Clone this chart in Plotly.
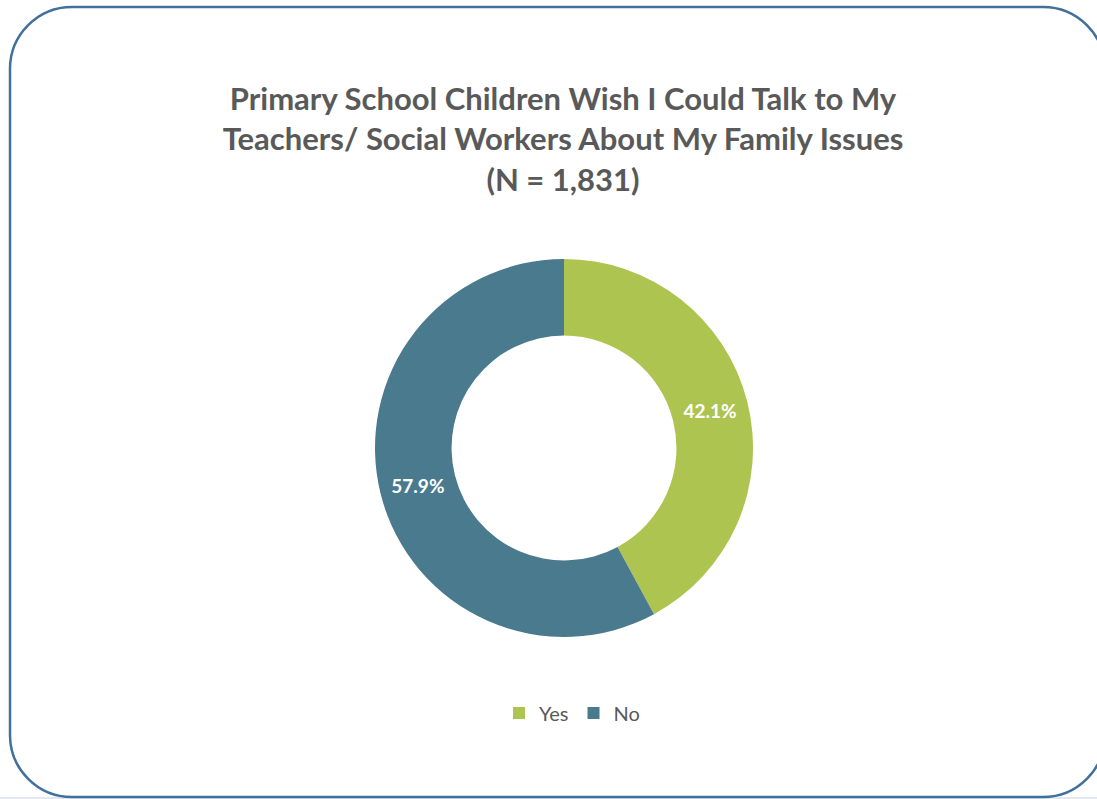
import plotly.graph_objects as go

# Survey responses
labels = ["Yes", "No"]
shares = [42.1, 57.9]
colors = ["#AEC451", "#4A7A8D"]
title_lines = [
    "Primary School Children Wish I Could Talk to My",
    "Teachers/ Social Workers About My Family Issues",
    "(N = 1,831)",
]

W, H = 1097, 799


def px(x):
    return x / W


def py(y):
    return 1 - y / H


def rounded_rect_path(x0, y0, x1, y1, r):
    k = 0.5523 * r
    pts = [
        f"M {px(x0 + r)},{py(y0)}",
        f"L {px(x1 - r)},{py(y0)}",
        f"C {px(x1 - r + k)},{py(y0)} {px(x1)},{py(y0 + r - k)} {px(x1)},{py(y0 + r)}",
        f"L {px(x1)},{py(y1 - r)}",
        f"C {px(x1)},{py(y1 - r + k)} {px(x1 - r + k)},{py(y1)} {px(x1 - r)},{py(y1)}",
        f"L {px(x0 + r)},{py(y1)}",
        f"C {px(x0 + r - k)},{py(y1)} {px(x0)},{py(y1 - r + k)} {px(x0)},{py(y1 - r)}",
        f"L {px(x0)},{py(y0 + r)}",
        f"C {px(x0)},{py(y0 + r - k)} {px(x0 + r - k)},{py(y0)} {px(x0 + r)},{py(y0)}",
        "Z",
    ]
    return " ".join(pts)


cx, cy, R = 564, 448, 189

fig = go.Figure(
    go.Pie(
        labels=labels,
        values=shares,
        text=[f"{v:.1f}%" for v in shares],
        textinfo="text",
        hole=0.595,
        sort=False,
        direction="clockwise",
        rotation=0,
        marker=dict(colors=colors, line=dict(width=0)),
        textposition="inside",
        insidetextorientation="horizontal",
        textfont=dict(family="Lato, 'Open Sans', sans-serif", size=19, color="white", weight="bold"),
        domain=dict(x=[px(cx - R), px(cx + R)], y=[py(cy + R), py(cy - R)]),
    )
)

fig.update_layout(
    width=W,
    height=H,
    margin=dict(l=0, r=0, t=0, b=0),
    paper_bgcolor="white",
    plot_bgcolor="white",
    title=dict(
        text="<br>".join(title_lines),
        x=px(563),
        xanchor="center",
        y=py(110),
        yanchor="top",
        yref="container",
        font=dict(family="Lato, 'Open Sans', sans-serif", size=31, color="#595959", weight="bold"),
    ),
    legend=dict(
        orientation="h",
        x=px(572),
        xanchor="center",
        y=py(713),
        yanchor="middle",
        font=dict(family="Lato, 'Open Sans', sans-serif", size=20, color="#595959"),
        itemwidth=30,
        traceorder="normal",
    ),
    shapes=[
        dict(
            type="rect", xref="paper", yref="paper",
            x0=0, x1=1, y0=py(799), y1=py(797),
            fillcolor="#E6E7EE", line=dict(width=0), layer="below",
        ),
        dict(
            type="path", xref="paper", yref="paper",
            path=rounded_rect_path(10, 7, 1105, 797, 62),
            line=dict(color="#41709C", width=2.5),
            layer="above",
        ),
    ],
)

fig.write_html("out.html")
